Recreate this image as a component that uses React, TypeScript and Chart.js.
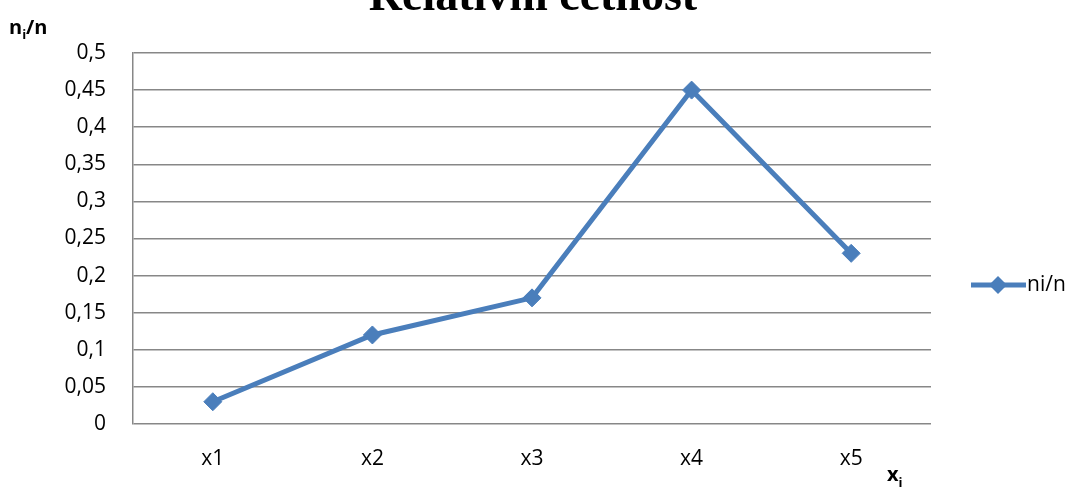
import React, { useEffect, useRef } from "react";
import { Chart, registerables } from "chart.js";

Chart.register(...registerables);

const categories = ["x1", "x2", "x3", "x4", "x5"];
const seriesName = "ni/n";
const values = [0.03, 0.12, 0.17, 0.45, 0.23];
const yTickLabels = ["0", "0,05", "0,1", "0,15", "0,2", "0,25", "0,3", "0,35", "0,4", "0,45", "0,5"];
const titleText = "Relativní četnost";

const BLUE = "#4A7EBB";
const GRID = "#878787";
const FONT = "'Open Sans', 'Noto Sans', sans-serif";
const FS = 21;

const overlay = {
  id: "overlay",
  afterDraw(chart: any) {
    const ctx = chart.ctx as CanvasRenderingContext2D;
    ctx.save();
    // Title (clipped at top)
    ctx.fillStyle = "#000";
    ctx.font = "bold 46px 'Liberation Serif', serif";
    ctx.textAlign = "center";
    ctx.textBaseline = "alphabetic";
    ctx.fillText(titleText, 533, 10);

    // y axis title n_i/n
    ctx.textAlign = "left";
    ctx.font = `bold 20px ${FONT}`;
    let x = 9;
    ctx.fillText("n", x, 34);
    x += ctx.measureText("n").width;
    ctx.font = `bold 13px ${FONT}`;
    ctx.fillText("i", x, 39);
    x += ctx.measureText("i").width;
    ctx.font = `bold 20px ${FONT}`;
    ctx.fillText("/n", x, 34);

    // x axis title x_i
    ctx.font = `bold 20px ${FONT}`;
    x = 887;
    ctx.fillText("x", x, 481);
    x += ctx.measureText("x").width;
    ctx.font = `bold 13px ${FONT}`;
    ctx.fillText("i", x, 487);

    // legend
    const ly = 285;
    ctx.strokeStyle = BLUE;
    ctx.lineWidth = 5;
    ctx.beginPath();
    ctx.moveTo(971, ly);
    ctx.lineTo(1026, ly);
    ctx.stroke();
    ctx.fillStyle = BLUE;
    ctx.beginPath();
    const r = 9;
    ctx.moveTo(998, ly - r);
    ctx.lineTo(998 + r, ly);
    ctx.lineTo(998, ly + r);
    ctx.lineTo(998 - r, ly);
    ctx.closePath();
    ctx.fill();
    ctx.fillStyle = "#000";
    ctx.font = `${FS}px ${FONT}`;
    ctx.textBaseline = "middle";
    ctx.fillText(seriesName, 1027, ly);
    ctx.restore();
  },
};

export default function App() {
  const ref = useRef<HTMLCanvasElement>(null);
  useEffect(() => {
    document.body.style.margin = "0";
    const chart = new Chart(ref.current!, {
      type: "line",
      data: {
        labels: categories,
        datasets: [
          {
            label: seriesName,
            data: values,
            borderColor: BLUE,
            backgroundColor: BLUE,
            borderWidth: 5,
            pointStyle: "rectRot",
            pointRadius: 9,
            pointBorderWidth: 1,
            pointBackgroundColor: BLUE,
            pointBorderColor: BLUE,
            tension: 0,
          },
        ],
      },
      options: {
        animation: false,
        responsive: false,
        devicePixelRatio: 1,
        layout: { padding: { left: 0, right: 147, top: 53, bottom: 0 } },
        plugins: { legend: { display: false }, title: { display: false }, tooltip: { enabled: false } },
        scales: {
          x: {
            offset: true,
            grid: { display: false, drawTicks: false },
            border: { display: false },
            ticks: { color: "#000", font: { family: FONT, size: FS }, padding: 22, maxRotation: 0 },
            afterFit: (s: any) => {
              s.height = 67;
            },
          },
          y: {
            min: 0,
            max: 0.5,
            grid: { color: GRID, lineWidth: 1.5, drawTicks: false },
            border: { display: true, color: GRID, width: 1.5 },
            ticks: {
              stepSize: 0.05,
              color: "#000",
              font: { family: FONT, size: FS },
              padding: 27,
              callback: (_v: any, i: number) => yTickLabels[i],
            },
            afterFit: (s: any) => {
              s.width = 133;
            },
          },
        },
      },
      plugins: [overlay],
    });
    return () => chart.destroy();
  }, []);
  return (
    <div style={{ position: "absolute", left: 0, top: 0, width: 1078, height: 491, background: "#fff" }}>
      <canvas ref={ref} width={1078} height={491} />
    </div>
  );
}
